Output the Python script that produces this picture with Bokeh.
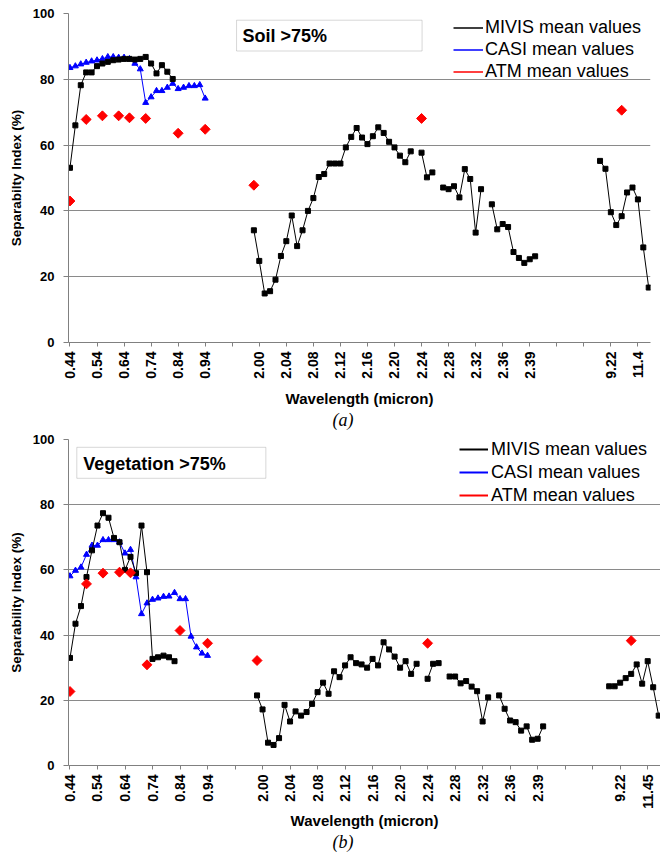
import math
from bokeh.plotting import figure
from bokeh.models import Range1d, FixedTicker, Legend, LegendItem, Label, BoxAnnotation, ColumnDataSource, Title
from bokeh.layouts import column
from bokeh.embed import file_html
from bokeh.resources import INLINE

NAN = float("nan")
N_CAT = 108

# category tick labels (one every 5 categories)
tick_labels_a = ["0.44", "0.54", "0.64", "0.74", "0.84", "0.94", "", "2.00", "2.04", "2.08", "2.12",
                 "2.16", "2.20", "2.24", "2.28", "2.32", "2.36", "2.39", "", "", "9.22", "11.4"]
tick_labels_b = ["0.44", "0.54", "0.64", "0.74", "0.84", "0.94", "", "2.00", "2.04", "2.08", "2.12",
                 "2.16", "2.20", "2.24", "2.28", "2.32", "2.36", "2.39", "", "", "9.22", "11.45"]

# ---------- (a) Soil >75% ----------
soil_mivis_vis = [53.1, 66.0, 78.2, 82.1, 82.1, 84.0, 84.8, 85.3, 85.8, 86.0, 86.2, 86.2, 86.0, 86.2,
                  86.8, 84.8, 81.8, 84.3, 82.3, 80.1]                      # categories 0-19
soil_mivis_swir = [34.1, 24.8, 14.9, 15.6, 19.1, 26.3, 30.8, 38.6, 29.3, 34.1, 40.0, 43.9, 50.3, 51.2,
                   54.4, 54.4, 54.4, 59.3, 62.5, 65.2, 62.3, 60.3, 62.7, 65.4, 63.7, 61.0, 59.3, 56.8,
                   54.8, 58.1, None, 57.7, 50.2, 51.7, None, 47.1, 46.6, 47.5, 44.1, 52.7, 49.7, 33.4,
                   46.6, None, 42.0, 34.4, 36.0, 35.1, 27.5, 25.7, 24.2, 25.3, 26.2]  # categories 34-86
soil_mivis_tir = [55.2, 52.8, 39.6, 35.7, 38.4, 45.6, 47.1, 43.5, 28.9, 16.7]  # categories 98-107
soil_casi = [83.5, 84.0, 84.6, 85.1, 85.5, 85.8, 86.2, 86.8, 86.8, 86.6, 86.6, 86.2, 84.8, 83.1,
             72.9, 74.6, 76.5, 76.5, 77.5, 78.7, 77.1, 77.5, 78.0, 78.0, 78.3, 74.2]  # categories 0-25
atm_cats = [0, 3, 6, 9, 11, 14, 20, 25, 34, 65, 102]
soil_atm = [43.0, 67.8, 68.9, 68.9, 68.3, 68.1, 63.6, 64.8, 47.8, 68.1, 70.6]

# ---------- (b) Vegetation >75% ----------
veg_mivis_vis = [33.0, 43.5, 48.9, 57.8, 66.0, 73.6, 77.4, 76.0, 69.8, 68.5, 60.0, 64.0, 59.0, 73.6,
                 59.3, 32.7, 33.2, 33.7, 33.2, 32.0]
veg_mivis_swir = [21.5, 17.2, 7.0, 6.3, 8.4, 18.6, 13.5, 16.6, 15.3, 16.4, 18.9, 22.5, 25.4, 22.0,
                  28.9, 27.1, 30.7, 33.2, 31.4, 31.0, 30.0, 32.7, 30.7, 37.8, 35.6, 33.4, 30.0, 32.0,
                  28.1, 31.2, None, 26.6, 31.2, 31.4, None, 27.3, 27.3, 25.2, 25.9, 24.2, 22.8, 13.5,
                  20.9, None, 21.5, 17.4, 13.8, 13.3, 10.7, 12.0, 7.9, 8.2, 12.0]
veg_mivis_tir = [24.3, 24.3, 25.4, 26.8, 28.1, 31.0, 25.1, 32.0, 24.0, 15.3]
veg_casi = [58.1, 59.8, 60.8, 64.7, 67.5, 67.5, 69.2, 69.2, 69.2, 68.5, 65.1, 66.2, 57.8, 46.5,
            49.8, 50.9, 51.3, 51.8, 51.9, 53.0, 51.1, 51.1, 39.6, 36.3, 34.4, 33.7]
veg_atm = [22.7, 55.7, 59.0, 59.3, 59.1, 30.9, 41.4, 37.5, 32.2, 37.5, 38.3]


def build(segments):
    arr = [NAN] * N_CAT
    for start, vals in segments:
        for i, v in enumerate(vals):
            if v is not None:
                arr[start + i] = v
    return arr


def make_panel(mivis, casi, atm, labels, yl, title, cfg):
    p = figure(frame_width=cfg["fw"], frame_height=cfg["fh"],
               x_range=Range1d(-0.27, 107.33), y_range=Range1d(0, 100),
               min_border_left=68, min_border_right=cfg["mbr"], min_border_top=cfg["mbt"],
               min_border_bottom=cfg["mbb"], toolbar_location=None, output_backend="svg")
    p.outline_line_color = None
    p.xgrid.grid_line_color = None
    p.ygrid.grid_line_color = "#8a8a8a"
    p.ygrid.grid_line_width = 1

    cats = list(range(N_CAT))
    # CASI
    p.line(cats[:len(casi)], casi, color="#0000ff", line_width=1)
    p.scatter(cats[:len(casi)], casi, marker="triangle", size=6, color="#0000ff")
    # MIVIS
    p.line(cats, mivis, color="black", line_width=1)
    p.scatter(cats, mivis, marker="square", size=5, color="black")
    # ATM
    p.scatter(atm_cats, atm, marker="square", angle=math.pi / 4, size=7, color="#ff0000")

    # axes
    for ax in (p.xaxis[0], p.yaxis[0]):
        ax.axis_line_color = "#808080"
        ax.major_tick_line_color = "#808080"
        ax.minor_tick_line_color = None
        ax.major_tick_in = 0
        ax.major_label_text_font = "Liberation Sans"
        ax.major_label_text_font_style = "bold"
        ax.major_label_text_color = "black"
        ax.axis_label_text_font = "Liberation Sans"
        ax.axis_label_text_font_style = "bold"
        ax.axis_label_text_color = "black"
    xa = p.xaxis[0]
    xa.ticker = FixedTicker(ticks=list(range(0, 106, 5)))
    xa.major_label_overrides = {i * 5: lab for i, lab in enumerate(labels)}
    xa.major_label_orientation = math.pi / 2
    xa.major_label_text_font_size = "14px"
    xa.major_tick_out = 4
    xa.major_label_standoff = 5
    xa.axis_label = "Wavelength (micron)"
    xa.axis_label_text_font_size = "15px"
    xa.axis_label_standoff = cfg["xls"]

    ya = p.yaxis[0]
    ya.ticker = FixedTicker(ticks=[0, 20, 40, 60, 80, 100])
    ya.major_label_text_font_size = "13px"
    ya.major_tick_out = 5
    ya.major_label_standoff = 9
    ya.axis_label = yl
    ya.axis_label_text_font_size = "13.5px"
    ya.axis_label_standoff = 6

    # title box
    p.add_layout(BoxAnnotation(left=cfg["box"][0], right=cfg["box"][1], top=cfg["box"][2],
                               bottom=cfg["box"][3], fill_color="white", fill_alpha=1,
                               line_color="#7a7a7a", line_width=1))
    p.add_layout(Label(x=cfg["tpos"][0], y=cfg["tpos"][1], text=title, text_font="Liberation Sans",
                       text_font_style="bold", text_font_size="18px", text_baseline="middle",
                       text_align="left", text_color="black"))

    # legend (line swatches only)
    items = []
    for lab, col in (("MIVIS mean values", "black"), ("CASI mean values", "#0000ff"),
                     ("ATM mean values", "#ff0000")):
        r = p.line(x="x", y="y", source=ColumnDataSource(dict(x=[NAN, NAN], y=[NAN, NAN])), color=col,
                   line_width=cfg["lw"])
        items.append(LegendItem(label=lab, renderers=[r]))
    leg = Legend(items=items, location=cfg["legpos"], glyph_width=cfg["gw"], glyph_height=cfg["rowh"],
                 label_height=cfg["rowh"], spacing=1, padding=0, margin=0, label_standoff=cfg["ls"],
                 border_line_color=None, background_fill_alpha=0,
                 label_text_font="Liberation Sans", label_text_font_size="18px",
                 label_text_color="black")
    p.add_layout(leg)

    # panel caption
    p.add_layout(Title(text=cfg["captext"], align="left", offset=264, standoff=-4,
                       text_font="Liberation Serif", text_font_style="italic", text_font_size="18px",
                       text_color="black"), "below")
    return p


mivis_a = build([(0, soil_mivis_vis), (34, soil_mivis_swir), (98, soil_mivis_tir)])
mivis_b = build([(0, veg_mivis_vis), (34, veg_mivis_swir), (98, veg_mivis_tir)])

cfg_a = dict(fw=582, fh=329, mbr=10, mbt=13, mbb=91, box=(30.8, 65.1, 97.96, 88.6), tpos=(31.9, 93.1),
             lw=1.5, legpos=(385, 260), gw=30, rowh=21, ls=2, captext="(a)", xls=8)
cfg_b = dict(fw=592, fh=326, mbr=0, mbt=6, mbb=88, box=(1.24, 35.6, 97.6, 88.1), tpos=(2.4, 92.6),
             lw=2, legpos=(391, 259), gw=29, rowh=22, ls=3, captext="(b)", xls=0)

p1 = make_panel(mivis_a, soil_casi, soil_atm, tick_labels_a, "Separabilty Index (%)", "Soil >75%", cfg_a)
p2 = make_panel(mivis_b, veg_casi, veg_atm, tick_labels_b, "Separability Index (%)", "Vegetation >75%", cfg_b)

layout = column(p1, p2)
open("out.html", "w").write(file_html(layout, INLINE))
